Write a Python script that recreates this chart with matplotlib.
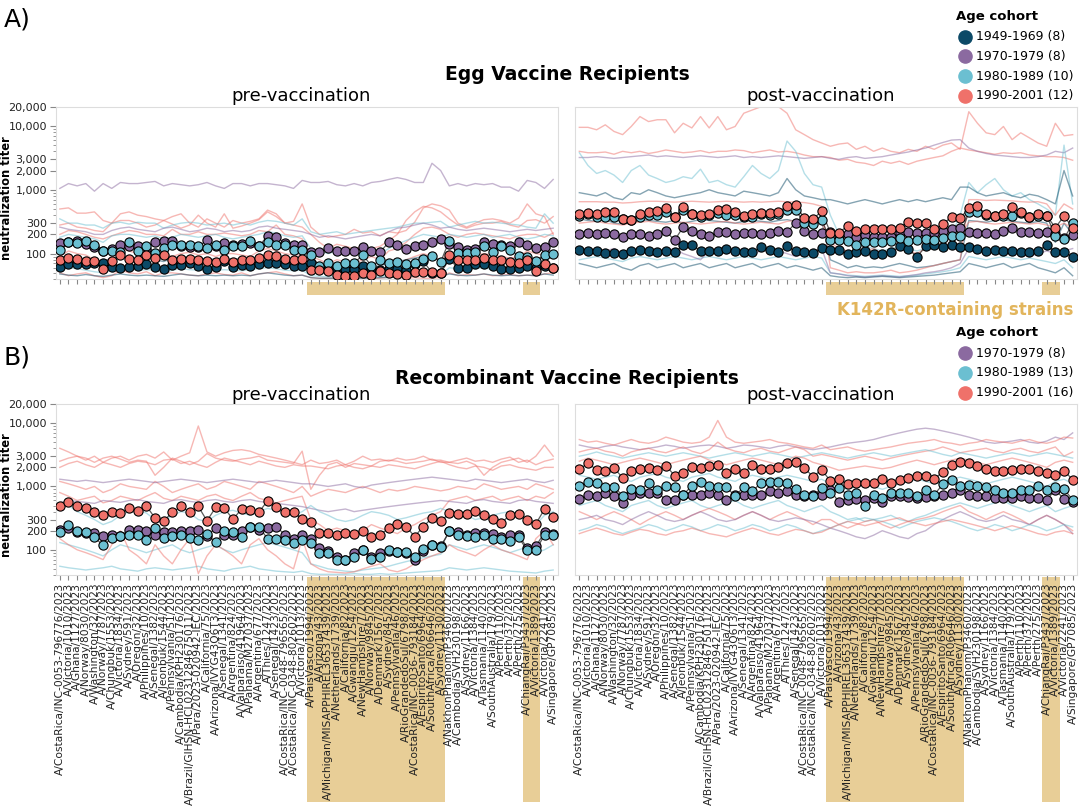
import matplotlib
matplotlib.use("Agg")
import matplotlib.pyplot as plt
from matplotlib.patches import Rectangle
from matplotlib.lines import Line2D
from matplotlib.ticker import FixedLocator, LogLocator, NullFormatter

strains = [
    "A/CostaRica/INC-0053-796776/2023", "A/Victoria/1010/2023", "A/Ghana/1127/2023",
    "A/Norway/8030/2023", "A/Washington/32/2023", "A/Norway/7787/2023",
    "A/Chungbuk/1553/2023", "A/Victoria/1834/2023", "A/Sydney/591/2023",
    "A/Oregon/32/2023", "A/Philippines/10/2023", "A/Senegal/1382/2023",
    "A/Jeonbuk/1544/2023", "A/Pennsylvania/51/2023", "A/Cambodia/KPH230176/2023",
    "A/Brazil/GIHSN-HCL0231284675011/2023", "A/Para/2023-020942-IEC/2023",
    "A/California/75/2023", "A/Arizona/IVYG43Q6T3/2023", "A/Senegal/1341/2023",
    "A/Argentina/824/2023", "A/Valparaiso/41964/2023", "A/Panama/M27037/2023",
    "A/Argentina/677/2023", "A/Thies/1247/2023", "A/Senegal/1423/2023",
    "A/CostaRica/INC-0048-796565/2023", "A/CostaRica/INC-0348-802602/2023",
    "A/Victoria/1013/2023", "A/PaisVasco/1994/2023", "A/Arizona/43/2023",
    "A/Michigan/MISAPPHIREL36537439/2023", "A/Netherlands/1739/2023",
    "A/California/82/2023", "A/Gwangju/1254/2023", "A/NewHampshire/7/2023",
    "A/Norway/9845/2023", "A/Denmark/1567/2023", "A/Sydney/845/2023",
    "A/Pennsylvania/46/2023", "A/RioGrandedoSul/6798/2023",
    "A/CostaRica/INC-0036-793184/2023", "A/EspiritoSanto/6964/2023",
    "A/SouthAfrica/R06646/2023", "A/Sydney/1130/2023", "A/NakhonPhanom/P3460/2023",
    "A/Cambodia/SVH230198/2023", "A/Sydney/1166/2023", "A/Victoria/1384/2023",
    "A/Tasmania/1140/2023", "A/SouthAustralia/179/2023", "A/Perth/110/2023",
    "A/Perth/372/2023", "A/Perth/275/2023", "A/ChiangRai/P3437/2023",
    "A/Victoria/1389/2023", "A/Victoria/2241/2023", "A/Singapore/GP7085/2023",
]

k142r_strains = [
    "A/PaisVasco/1994/2023", "A/Arizona/43/2023", "A/Michigan/MISAPPHIREL36537439/2023",
    "A/Netherlands/1739/2023", "A/California/82/2023", "A/Gwangju/1254/2023",
    "A/NewHampshire/7/2023", "A/Norway/9845/2023", "A/Denmark/1567/2023",
    "A/Sydney/845/2023", "A/Pennsylvania/46/2023", "A/RioGrandedoSul/6798/2023",
    "A/CostaRica/INC-0036-793184/2023", "A/EspiritoSanto/6964/2023",
    "A/SouthAfrica/R06646/2023", "A/Sydney/1130/2023",
    "A/ChiangRai/P3437/2023", "A/Victoria/1389/2023",
]

colors = {
    "1949-1969": "#0c4a67",
    "1970-1979": "#8b6aa0",
    "1980-1989": "#6bbfd1",
    "1990-2001": "#ef716a",
}
egg_legend = ["1949-1969 (8)", "1970-1979 (8)", "1980-1989 (10)", "1990-2001 (12)"]
rec_legend = ["1970-1979 (8)", "1980-1989 (13)", "1990-2001 (16)"]

# ---- cohort geometric means ----
egg_pre_1949 = [62, 68, 68, 68, 72, 72, 62, 60, 62, 64, 69, 62, 57, 66, 66, 70, 64, 57, 62, 76,
                62, 66, 64, 68, 72, 72, 69, 64, 64,
                72, 60, 58, 56, 58, 58, 64, 57, 56, 58, 57, 55, 68, 76, 50, 50,
                81, 60, 60, 68, 69, 64, 57, 57, 60, 64, 60, 64, 60]
egg_pre_1970 = [146, 150, 155, 140, 125, 110, 120, 138, 130, 130, 120, 150, 159, 159, 130, 125, 128, 164, 130, 146,
                135, 140, 145, 130, 190, 185, 146, 138, 138,
                106, 106, 122, 111, 111, 111, 125, 111, 106, 150, 138, 118, 133, 138, 150, 169,
                140, 125, 115, 120, 150, 141, 138, 130, 150, 138, 122, 125, 152]
egg_pre_1980 = [115, 150, 148, 155, 138, 111, 109, 106, 150, 111, 130, 103, 122, 136, 136, 138, 130, 122, 138, 115,
                130, 130, 155, 130, 150, 138, 138, 115, 115,
                96, 64, 70, 64, 70, 70, 96, 64, 78, 70, 73, 68, 72, 81, 93, 74,
                159, 103, 103, 105, 130, 105, 133, 115, 93, 88, 76, 96, 98]
egg_pre_1990 = [78, 86, 83, 76, 76, 57, 76, 96, 83, 79, 94, 86, 94, 79, 83, 83, 79, 76, 73, 81,
                73, 79, 79, 86, 94, 91, 83, 79, 81,
                55, 55, 53, 47, 45, 45, 50, 47, 53, 49, 48, 47, 52, 52, 51, 50,
                94, 78, 78, 78, 86, 78, 78, 73, 72, 78, 53, 69, 59]

egg_post_1949 = [115, 111, 109, 103, 103, 100, 109, 113, 109, 105, 109, 105, 135, 138, 109, 109, 109, 118, 111, 105,
                 105, 127, 115, 105, 130, 109, 105, 103, 122,
                 115, 115, 99, 105, 111, 100, 97, 105, 130, 120, 88, 130, 138, 127, 138, 125,
                 125, 118, 109, 115, 109, 109, 105, 105, 109, 138, 105, 105, 89]
egg_post_1970 = [206, 214, 206, 214, 201, 185, 204, 204, 192, 204, 227, 161, 261, 227, 204, 190, 216, 216, 204, 209,
                 214, 201, 214, 227, 216, 305, 227, 201, 209,
                 216, 197, 201, 185, 197, 185, 185, 179, 214, 216, 214, 214, 209, 227, 240, 255,
                 216, 209, 209, 204, 227, 255, 216, 216, 209, 221, 204, 175, 197]
egg_post_1980 = [386, 410, 378, 378, 378, 343, 335, 378, 400, 400, 441, 378, 478, 410, 378, 400, 425, 400, 400, 378,
                 378, 410, 400, 410, 478, 478, 298, 288, 335,
                 165, 165, 155, 138, 152, 152, 150, 155, 175, 155, 165, 171, 165, 175, 190, 190,
                 441, 441, 400, 391, 391, 391, 425, 378, 391, 391, 190, 171, 298]
egg_post_1990 = [410, 436, 420, 441, 451, 343, 335, 420, 451, 473, 520, 373, 532, 415, 400, 410, 478, 496, 451, 391,
                 410, 425, 430, 441, 558, 578, 356, 343, 467,
                 214, 214, 271, 229, 240, 240, 240, 240, 255, 316, 305, 298, 240, 288, 378, 356,
                 520, 558, 410, 391, 410, 532, 441, 378, 410, 391, 255, 386, 255]

rec_pre_1970 = [207, 220, 188, 183, 183, 166, 172, 166, 207, 202, 199, 172, 190, 188, 199, 195, 207, 166, 220, 172,
                172, 195, 233, 207, 220, 233, 172, 147, 172,
                149, 106, 94, 78, 70, 89, 100, 78, 89, 94, 91, 89, 70, 94, 117, 113,
                195, 188, 172, 183, 183, 177, 157, 172, 172, 106, 113, 190, 179]
rec_pre_1980 = [188, 242, 195, 190, 158, 117, 153, 166, 170, 170, 144, 220, 153, 166, 172, 153, 144, 177, 131, 195,
                188, 162, 225, 233, 149, 147, 144, 127, 144,
                127, 89, 89, 68, 68, 78, 100, 71, 78, 100, 91, 91, 78, 102, 117, 109,
                195, 172, 166, 158, 172, 147, 147, 140, 158, 98, 98, 172, 172]
rec_pre_1990 = [494, 558, 483, 454, 388, 356, 398, 379, 454, 412, 494, 316, 287, 388, 483, 393, 483, 287, 465, 454,
                305, 438, 428, 393, 593, 471, 388, 393, 305,
                270, 181, 181, 172, 181, 179, 195, 162, 172, 220, 254, 233, 162, 233, 316, 280,
                379, 370, 370, 412, 348, 308, 263, 356, 365, 290, 257, 438, 327]

rec_post_1970 = [630, 737, 694, 783, 711, 545, 737, 783, 783, 802, 615, 615, 737, 737, 737, 783, 737, 615, 737, 737,
                 737, 737, 832, 783, 832, 737, 694, 737, 737,
                 884, 558, 615, 630, 615, 653, 558, 694, 694, 677, 653, 677, 694, 737, 783, 884,
                 737, 694, 694, 653, 653, 653, 694, 653, 653, 615, 884, 630, 578]
rec_post_1980 = [1022, 1196, 1126, 962, 997, 711, 905, 884, 1126, 884, 1022, 973, 737, 1022, 1167, 1022, 973, 962, 711, 973,
                 832, 1153, 1196, 1196, 1153, 905, 737, 711, 939,
                 783, 939, 737, 783, 494, 737, 653, 783, 802, 802, 711, 884, 737, 1086, 1271, 1022,
                 1050, 1022, 997, 884, 783, 802, 884, 884, 1022, 884, 997, 905, 615]
rec_post_1990 = [1872, 2328, 1827, 1762, 1941, 1383, 1762, 1872, 1941, 1827, 2138, 1486, 1619, 2013, 1941, 2113, 2191, 1659, 1872, 1619,
                 2191, 1872, 1872, 2013, 2328, 2473, 1941, 1434, 1827,
                 1225, 1302, 1086, 1153, 1153, 1153, 1302, 1153, 1271, 1383, 1469, 1469, 1302, 1720, 2191, 2473,
                 2328, 2113, 1872, 1783, 1783, 1827, 1872, 1872, 1783, 1659, 1524, 1783, 1271]

# ---- individual sera (thin lines), read roughly ----
egg_pre_people = [
    ("1970-1979", [1050, 1250, 1150, 1250, 950, 1250, 1050, 1300, 1250, 1250, 1300, 1350, 1150, 1250, 1200, 1150, 1200, 1300, 1150, 1050,
                   1250, 1250, 1150, 1250, 1250, 1200, 1150, 1050, 1400,
                   1300, 1300, 1350, 1200, 1150, 1250, 1150, 1300, 1350, 1450, 1550, 1450, 1300, 1300, 2600, 2000,
                   1150, 1250, 1150, 1250, 1200, 1250, 1100, 1100, 950, 1400, 1300, 1050, 1450]),
    ("1990-2001", [500, 520, 430, 430, 450, 330, 300, 420, 450, 400, 380, 350, 330, 380, 420, 300, 260, 350, 300, 260,
                   330, 300, 320, 350, 480, 420, 300, 320, 600,
                   260, 200, 180, 190, 200, 240, 210, 220, 190, 220, 210, 230, 310, 520, 600, 560,
                   480, 300, 260, 300, 340, 350, 330, 300, 360, 600, 420, 380, 200]),
    ("1990-2001", [280, 300, 260, 250, 230, 220, 300, 330, 330, 300, 260, 280, 330, 290, 250, 280, 400, 300, 260, 420,
                   250, 270, 300, 340, 450, 380, 300, 280, 260,
                   200, 150, 120, 140, 130, 120, 130, 120, 130, 160, 200, 330, 450, 550, 520, 450,
                   350, 280, 250, 280, 300, 300, 320, 280, 260, 330, 340, 300, 380]),
    ("1990-2001", [200, 230, 220, 200, 180, 170, 190, 210, 230, 220, 200, 200, 190, 240, 200, 200, 220, 200, 200, 210,
                   200, 190, 200, 230, 220, 280, 200, 190, 170,
                   90, 80, 70, 80, 75, 70, 80, 90, 80, 110, 120, 150, 200, 250, 260, 240,
                   200, 180, 200, 210, 200, 190, 180, 170, 190, 200, 200, 180, 210]),
    ("1990-2001", [50, 45, 48, 50, 45, 42, 45, 55, 50, 48, 52, 45, 50, 50, 48, 46, 45, 48, 50, 47,
                   46, 50, 45, 48, 50, 52, 48, 45, 46,
                   42, 41, 41, 42, 41, 41, 42, 41, 41, 43, 42, 41, 42, 41, 41, 42,
                   50, 45, 47, 46, 48, 45, 46, 47, 45, 46, 45, 48, 50]),
    ("1990-2001", [90, 110, 100, 95, 80, 70, 90, 120, 110, 100, 95, 110, 100, 90, 100, 105, 95, 100, 90, 100,
                   100, 95, 90, 110, 120, 110, 100, 95, 95,
                   60, 55, 50, 55, 50, 52, 55, 50, 55, 60, 70, 80, 90, 100, 90, 80,
                   100, 95, 90, 95, 100, 95, 90, 85, 90, 110, 100, 95, 100]),
    ("1980-1989", [350, 300, 300, 280, 280, 250, 300, 310, 290, 310, 300, 300, 250, 280, 300, 310, 300, 280, 290, 300,
                   280, 300, 280, 310, 330, 320, 300, 280, 350,
                   220, 200, 210, 220, 200, 210, 220, 230, 240, 250, 260, 280, 300, 300, 310, 320,
                   260, 280, 300, 320, 300, 310, 300, 290, 280, 260, 250, 420, 300]),
    ("1980-1989", [180, 200, 190, 180, 170, 150, 190, 200, 200, 190, 180, 190, 170, 180, 200, 190, 180, 190, 200, 180,
                   170, 180, 190, 200, 220, 210, 190, 180, 190,
                   120, 110, 100, 110, 105, 100, 110, 120, 100, 120, 140, 160, 180, 200, 190, 180,
                   200, 190, 180, 190, 200, 180, 190, 200, 180, 170, 180, 200, 190]),
    ("1980-1989", [55, 60, 58, 55, 52, 50, 55, 60, 58, 55, 56, 55, 50, 55, 58, 56, 55, 57, 55, 56,
                   55, 54, 56, 58, 60, 58, 55, 54, 55,
                   45, 44, 43, 44, 43, 44, 45, 44, 43, 45, 46, 47, 48, 50, 48, 46,
                   60, 58, 57, 58, 60, 56, 57, 55, 54, 56, 55, 58, 57]),
    ("1970-1979", [260, 240, 230, 220, 200, 200, 230, 250, 260, 240, 230, 220, 250, 260, 240, 220, 230, 250, 240, 220,
                   230, 220, 230, 260, 270, 250, 240, 230, 220,
                   200, 180, 190, 180, 170, 180, 190, 200, 190, 220, 250, 260, 280, 300, 280, 250,
                   260, 240, 230, 240, 250, 240, 230, 220, 230, 240, 230, 240, 250]),
    ("1949-1969", [90, 85, 80, 85, 80, 75, 85, 90, 85, 80, 85, 80, 75, 85, 90, 85, 80, 85, 80, 85,
                   80, 85, 80, 90, 95, 90, 85, 80, 85,
                   70, 65, 60, 65, 60, 62, 65, 60, 65, 70, 75, 80, 85, 90, 85, 80,
                   90, 85, 80, 85, 90, 85, 80, 85, 80, 85, 80, 90, 85]),
    ("1949-1969", [48, 46, 45, 47, 45, 44, 46, 48, 46, 45, 46, 45, 44, 46, 48, 46, 45, 46, 45, 46,
                   45, 46, 45, 48, 50, 48, 46, 45, 46,
                   42, 41, 41, 41, 41, 41, 41, 41, 42, 42, 43, 44, 45, 46, 45, 44,
                   48, 46, 45, 46, 48, 46, 45, 46, 45, 46, 45, 48, 46]),
]

egg_post_people = [
    ("1990-2001", [9500, 9500, 8700, 10400, 8200, 7300, 9800, 14000, 11700, 12500, 12500, 7800, 11000, 9300, 14000, 9300, 14000, 8700, 9800, 15800,
                   17800, 20000, 20000, 20000, 15800, 8700, 7300, 6100, 5400,
                   4800, 5200, 5400, 4300, 4800, 4000, 4500, 4000, 3800, 4300, 4000, 4800, 4300, 5000, 5400, 4300,
                   16700, 11000, 7800, 7300, 9800, 6100, 7800, 6500, 5400, 4800, 11000, 7000, 7300]),
    ("1990-2001", [4000, 3800, 3800, 3900, 3600, 4000, 3800, 4000, 3700, 3900, 4200, 4000, 3800, 3900, 4100, 3800, 4000, 4000, 4200, 4100,
                   3800, 4000, 4200, 3900, 4000, 3800, 3500, 3300, 3300,
                   3200, 2900, 3000, 2700, 2600, 2400, 2800, 2600, 2800, 2500, 2800, 3000, 3200, 3400, 4000, 4500,
                   4200, 4000, 3800, 3600, 3800, 3700, 3800, 3500, 3400, 3300, 3300, 3200, 2900]),
    ("1970-1979", [3200, 3200, 3300, 3200, 3100, 3200, 3300, 3400, 3500, 3300, 3400, 3300, 3200, 3300, 3400, 3300, 3200, 3300, 3400, 3200,
                   3300, 3200, 3300, 3400, 3300, 3200, 3100, 3200, 3300,
                   3100, 3000, 3200, 3300, 3100, 3200, 3300, 3500, 3700, 3900, 4200, 4500, 5000, 5500, 6000, 6100,
                   4500, 4000, 3700, 3500, 3400, 3300, 3200, 3200, 3300, 3500, 4000, 3800, 4500]),
    ("1980-1989", [3800, 2400, 1800, 2000, 1700, 1300, 2000, 2400, 1700, 1500, 1300, 1400, 1600, 1500, 2100, 1300, 1400, 1200, 1100, 1600,
                   2400, 1800, 1500, 2000, 5800, 4000, 1800, 1200, 1100,
                   400, 200, 150, 140, 130, 120, 110, 120, 130, 120, 110, 120, 130, 150, 200, 400,
                   1300, 900, 1200, 1500, 1000, 800, 900, 700, 600, 500, 400, 5000, 600]),
    ("1949-1969", [900, 850, 800, 900, 750, 700, 900, 850, 1000, 900, 800, 750, 800, 850, 900, 1000, 900, 850, 800, 950,
                   900, 850, 800, 900, 1500, 1000, 800, 750, 700,
                   700, 650, 600, 650, 700, 650, 600, 650, 700, 650, 700, 650, 700, 750, 700, 1100,
                   1100, 900, 800, 850, 900, 800, 750, 850, 800, 700, 600, 2000, 800]),
    ("1949-1969", [350, 330, 320, 340, 300, 290, 320, 340, 330, 320, 310, 330, 300, 320, 340, 330, 320, 310, 300, 320,
                   330, 320, 310, 330, 340, 320, 310, 300, 320,
                   80, 70, 60, 65, 60, 62, 60, 65, 70, 65, 60, 62, 65, 70, 75, 80,
                   330, 320, 310, 330, 340, 320, 310, 300, 320, 300, 150, 300, 200]),
    ("1990-2001", [650, 650, 650, 640, 640, 620, 630, 650, 660, 660, 650, 640, 650, 660, 650, 640, 650, 660, 650, 640,
                   650, 640, 650, 660, 650, 640, 630, 600, 550,
                   60, 55, 50, 52, 50, 50, 52, 55, 50, 52, 55, 60, 65, 70, 75, 80,
                   700, 700, 680, 690, 680, 670, 650, 640, 650, 600, 400, 600, 500]),
    ("1980-1989", [80, 85, 90, 85, 80, 75, 85, 90, 85, 80, 85, 90, 85, 80, 85, 90, 85, 80, 85, 90,
                   85, 80, 85, 90, 85, 80, 85, 90, 85,
                   50, 48, 46, 45, 44, 45, 46, 45, 44, 45, 46, 48, 50, 52, 55, 60,
                   90, 85, 80, 85, 90, 85, 80, 85, 80, 75, 70, 80, 60]),
    ("1970-1979", [120, 110, 100, 110, 120, 100, 110, 120, 100, 90, 110, 120, 100, 90, 80, 110, 120, 100, 110, 120,
                   100, 110, 120, 110, 100, 90, 100, 110, 120,
                   50, 48, 45, 44, 43, 44, 45, 44, 43, 45, 47, 50, 52, 55, 60, 70,
                   120, 110, 100, 110, 120, 110, 100, 90, 100, 110, 100, 110, 120]),
    ("1990-2001", [300, 310, 320, 300, 290, 280, 300, 310, 320, 300, 290, 300, 310, 300, 290, 300, 310, 320, 300, 290,
                   300, 310, 300, 290, 320, 330, 300, 290, 300,
                   150, 120, 110, 100, 110, 120, 100, 110, 120, 110, 100, 120, 130, 150, 180, 200,
                   310, 320, 300, 290, 300, 310, 300, 290, 300, 280, 260, 300, 250]),
    ("1949-1969", [70, 65, 60, 65, 70, 60, 55, 65, 70, 60, 65, 70, 60, 65, 70, 60, 65, 70, 60, 65,
                   70, 60, 65, 70, 60, 65, 60, 55, 60,
                   45, 43, 42, 43, 42, 43, 44, 43, 42, 43, 44, 45, 46, 48, 50, 52,
                   70, 65, 60, 65, 70, 60, 65, 70, 60, 55, 50, 60, 45]),
]

rec_pre_people = [
    ("1990-2001", [4000, 3500, 3000, 2600, 3000, 2400, 2800, 3000, 2600, 3000, 3200, 2800, 3500, 2600, 3000, 3400, 9000, 3500, 3000, 3400,
                   3700, 3800, 3600, 3200, 3000, 2800, 2600, 2400, 2200,
                   2600, 2300, 2400, 2600, 2200, 2500, 3000, 2600, 2700, 2500, 2800, 2600, 2700, 3000, 2600, 2600,
                   2400, 2600, 2800, 2500, 2600, 2400, 2700, 2900, 2400, 2600, 2200, 2500, 2700]),
    ("1990-2001", [2500, 2800, 3000, 2800, 2400, 2800, 3000, 2700, 2400, 2600, 2500, 1500, 2000, 2800, 2500, 2200, 2500, 3300, 2800, 2600,
                   2500, 2700, 2800, 3000, 2600, 2500, 2400, 2300, 3600,
                   900, 1500, 2200, 2400, 2000, 2300, 2200, 2100, 2500, 2600, 2500, 2300, 2400, 2500, 2700, 2400,
                   2400, 2300, 2500, 2200, 1500, 2000, 2400, 2600, 2800, 2400, 3000, 4500, 3000]),
    ("1990-2001", [2000, 2300, 2500, 2200, 2000, 2400, 2200, 2000, 2300, 2500, 2400, 2200, 2600, 2700, 2300, 2500, 2200, 2000, 2400, 2800,
                   2600, 2400, 2200, 2500, 2300, 2100, 2000, 2200, 2100,
                   2100, 2000, 1900, 2100, 2200, 2000, 1900, 2100, 2000, 2200, 2100, 2000, 1900, 2100, 2300, 2500,
                   2200, 2000, 1900, 2100, 2000, 1800, 2100, 2200, 2000, 1900, 1800, 2000, 2000]),
    ("1990-2001", [1200, 1100, 1000, 900, 1000, 800, 900, 1100, 1000, 950, 900, 1200, 1000, 800, 900, 1000, 1100, 900, 1000, 1200,
                   1100, 1000, 900, 1200, 1100, 1000, 900, 800, 1000,
                   700, 800, 900, 850, 800, 900, 1000, 900, 800, 900, 850, 900, 1000, 950, 900, 850,
                   900, 1000, 950, 900, 1100, 1000, 900, 950, 1000, 900, 1100, 1000, 900]),
    ("1990-2001", [800, 700, 600, 650, 700, 550, 600, 700, 650, 600, 700, 800, 650, 600, 700, 650, 600, 700, 750, 650,
                   600, 700, 800, 650, 600, 550, 600, 650, 700,
                   300, 250, 200, 220, 200, 180, 200, 250, 220, 200, 180, 220, 250, 300, 350, 400,
                   600, 650, 700, 600, 650, 700, 600, 650, 700, 600, 700, 650, 800]),
    ("1970-1979", [1300, 1250, 1200, 1250, 1200, 1150, 1200, 1250, 1300, 1250, 1200, 1150, 1200, 1250, 1300, 1250, 1200, 1150, 1200, 1250,
                   1300, 1250, 1200, 1150, 1200, 1250, 1200, 1150, 1100,
                   1100, 1050, 1000, 1050, 1100, 1000, 950, 1050, 1100, 1150, 1200, 1250, 1300, 1350, 1400, 1350,
                   1300, 1250, 1200, 1300, 1250, 1200, 1150, 1200, 1250, 1300, 1200, 1150, 1250]),
    ("1970-1979", [550, 600, 580, 560, 540, 600, 580, 560, 600, 620, 580, 560, 540, 600, 620, 580, 560, 600, 620, 580,
                   560, 600, 620, 580, 560, 540, 520, 500, 480,
                   450, 420, 400, 420, 440, 400, 420, 440, 460, 480, 500, 520, 540, 560, 580, 600,
                   580, 560, 540, 600, 620, 580, 560, 540, 600, 620, 580, 560, 540]),
    ("1980-1989", [450, 500, 400, 350, 300, 250, 280, 350, 400, 420, 380, 300, 280, 350, 400, 380, 300, 280, 350, 400,
                   420, 380, 350, 400, 450, 420, 380, 350, 400,
                   500, 400, 350, 300, 280, 300, 350, 400, 380, 350, 300, 320, 350, 380, 400, 450,
                   400, 380, 350, 300, 320, 350, 380, 400, 350, 300, 250, 350, 400]),
    ("1980-1989", [130, 120, 110, 100, 90, 80, 100, 120, 110, 100, 90, 100, 110, 120, 100, 90, 100, 110, 120, 100,
                   90, 100, 110, 120, 130, 120, 110, 100, 90,
                   60, 55, 50, 48, 46, 45, 48, 50, 52, 55, 60, 65, 70, 75, 80, 85,
                   120, 110, 100, 110, 120, 110, 100, 90, 100, 110, 90, 100, 120]),
    ("1980-1989", [55, 52, 50, 48, 50, 52, 55, 50, 48, 46, 50, 52, 50, 48, 50, 52, 55, 50, 48, 46,
                   50, 52, 55, 50, 48, 46, 45, 44, 46,
                   42, 41, 41, 41, 41, 42, 41, 41, 42, 41, 42, 43, 44, 45, 46, 47,
                   52, 50, 48, 50, 52, 50, 48, 46, 45, 44, 43, 46, 48]),
    ("1990-2001", [150, 120, 100, 90, 80, 70, 120, 200, 100, 80, 60, 120, 80, 60, 100, 150, 42, 80, 120, 100,
                   80, 60, 120, 150, 100, 80, 60, 50, 150,
                   60, 50, 45, 44, 43, 45, 50, 55, 60, 48, 45, 50, 60, 70, 80, 90,
                   120, 100, 90, 80, 100, 120, 100, 90, 80, 70, 150, 200, 120]),
]

rec_post_people = [
    ("1970-1979", [4500, 4200, 4000, 4300, 4500, 4200, 4000, 3800, 4000, 4200, 4500, 4300, 4000, 4200, 4400, 4500, 4300, 4000, 4200, 4500,
                   4400, 4200, 4000, 4300, 4500, 4200, 4000, 3800, 4000,
                   4200, 4500, 4800, 5000, 5200, 5500, 6000, 6500, 7000, 7500, 8000, 8300, 8000, 7500, 7000, 6500,
                   6000, 5500, 5000, 4800, 5000, 5200, 5500, 5000, 4800, 5200, 6000, 5500, 7000]),
    ("1990-2001", [5500, 5000, 5200, 4800, 4500, 5000, 5500, 5000, 4800, 5200, 6000, 5500, 5000, 4800, 5000, 6000, 11000, 6000, 5000, 4800,
                   5000, 5200, 5500, 5000, 4800, 4500, 4200, 4000, 4500,
                   3800, 4000, 4200, 3800, 3600, 3800, 4000, 4200, 4500, 4800, 5000, 5200, 5500, 5000, 4800, 4500,
                   4800, 5000, 5500, 5200, 5000, 4800, 5200, 5500, 5000, 4800, 5200, 6000, 5800]),
    ("1990-2001", [3500, 3800, 4000, 3600, 3400, 3000, 3500, 3800, 4000, 3600, 3400, 3800, 4200, 3600, 3300, 3800, 5000, 4000, 3600, 3400,
                   3800, 4000, 3600, 3400, 3800, 4200, 3800, 3000, 3200,
                   3000, 2800, 2600, 2800, 3000, 2800, 2600, 2800, 3000, 3200, 3400, 3600, 3800, 4200, 3800, 3400,
                   3600, 3800, 4000, 3600, 3400, 3800, 4000, 3600, 3400, 3800, 4200, 3000, 3500]),
    ("1980-1989", [3000, 3200, 3500, 3200, 3000, 2800, 3000, 3200, 3400, 3200, 3000, 3200, 3400, 3200, 3000, 2800, 3000, 3200, 3400, 3200,
                   3000, 3200, 3400, 3200, 3000, 2800, 3000, 3200, 3400,
                   3200, 3000, 2800, 3000, 3200, 3400, 3200, 3000, 3200, 3400, 3600, 3800, 3500, 3200, 3000, 3400,
                   3200, 3000, 2800, 3000, 3200, 3400, 3200, 3000, 3200, 3400, 3200, 3000, 2800]),
    ("1990-2001", [2500, 2800, 2600, 2400, 2200, 2400, 2600, 2800, 2600, 2400, 2200, 2400, 2600, 2800, 3000, 2600, 2400, 2200, 2400, 2600,
                   2800, 2600, 2400, 2200, 2600, 3000, 2800, 2400, 2200,
                   2000, 1800, 1900, 2000, 2100, 2000, 1900, 2000, 2200, 2400, 2600, 2400, 2200, 2400, 2600, 2800,
                   2600, 2400, 2200, 2400, 2600, 2800, 2600, 2400, 2200, 2000, 2400, 2600, 2400]),
    ("1980-1989", [1500, 1400, 1300, 1400, 1500, 1300, 1200, 1400, 1500, 1600, 1400, 1300, 1200, 1400, 1500, 1600, 1400, 1300, 1200, 1400,
                   1500, 1400, 1300, 1400, 1500, 1400, 1300, 1200, 1300,
                   1100, 1000, 900, 1000, 1100, 1000, 900, 1000, 1100, 1200, 1300, 1200, 1100, 1200, 1300, 1400,
                   1300, 1200, 1100, 1200, 1300, 1400, 1300, 1200, 1100, 1000, 1200, 1300, 1100]),
    ("1980-1989", [500, 550, 600, 500, 450, 400, 500, 550, 600, 500, 450, 500, 550, 600, 500, 450, 500, 550, 600, 500,
                   450, 500, 550, 600, 500, 450, 400, 450, 500,
                   400, 350, 300, 320, 280, 300, 320, 350, 300, 280, 320, 350, 400, 450, 500, 550,
                   500, 450, 500, 550, 600, 500, 450, 400, 450, 500, 400, 450, 500]),
    ("1990-2001", [400, 350, 300, 350, 400, 350, 300, 250, 300, 350, 400, 350, 300, 350, 400, 450, 400, 350, 300, 350,
                   400, 350, 300, 350, 400, 350, 300, 250, 300,
                   300, 250, 220, 250, 280, 300, 250, 220, 250, 280, 300, 320, 350, 400, 450, 500,
                   400, 350, 300, 350, 400, 350, 300, 250, 300, 350, 300, 250, 200]),
    ("1970-1979", [300, 320, 350, 300, 280, 250, 300, 350, 400, 350, 300, 280, 300, 350, 400, 350, 300, 280, 300, 350,
                   400, 350, 300, 280, 300, 320, 300, 280, 250,
                   220, 200, 180, 160, 150, 170, 200, 180, 160, 150, 180, 200, 250, 300, 350, 400,
                   350, 300, 280, 300, 350, 300, 280, 250, 300, 350, 300, 250, 180]),
    ("1980-1989", [200, 220, 250, 230, 200, 180, 200, 220, 250, 230, 200, 220, 250, 230, 200, 220, 250, 230, 200, 220,
                   250, 230, 200, 220, 250, 230, 200, 180, 200,
                   220, 250, 280, 300, 320, 300, 280, 250, 220, 250, 280, 300, 320, 300, 280, 250,
                   220, 200, 220, 250, 230, 200, 220, 250, 230, 200, 220, 250, 230]),
    ("1990-2001", [180, 200, 220, 200, 180, 170, 190, 210, 200, 180, 170, 190, 200, 220, 200, 180, 170, 160, 180, 200,
                   220, 200, 180, 170, 190, 210, 200, 180, 190,
                   220, 250, 280, 260, 240, 260, 280, 300, 320, 280, 260, 240, 260, 280, 300, 280,
                   260, 240, 220, 200, 220, 240, 220, 200, 180, 170, 190, 200, 180]),
]

band_color = "#e8ce97"
k142r_text_color = "#e2b55c"
yticks = [100, 200, 300, 1000, 2000, 3000, 10000, 20000]


def k142r_spans():
    flags = [s in k142r_strains for s in strains]
    spans = []
    start = None
    for i, f in enumerate(flags + [False]):
        if f and start is None:
            start = i
        if not f and start is not None:
            spans.append((start, i - 1))
            start = None
    return spans


def draw_panel(ax, means, people, title, left, labels):
    x = list(range(len(strains)))
    for cohort, vals in people:
        ax.plot(x, vals, color=colors[cohort], lw=1.0, alpha=0.5, zorder=2)
    for cohort, vals in means:
        ax.plot(x, vals, color="#333333", lw=0.9, alpha=0.8, zorder=3)
        ax.scatter(x, vals, s=44, color=colors[cohort], edgecolors="black",
                   linewidths=0.8, zorder=4)

    ax.set_yscale("log")
    ax.set_ylim(40, 20000)
    ax.set_xlim(-0.5, len(strains) - 0.5)
    for sp in ax.spines.values():
        sp.set_color("#dddddd")

    ax.yaxis.set_major_locator(FixedLocator(yticks))
    ax.yaxis.set_minor_locator(LogLocator(base=10, subs=range(1, 10), numticks=20))
    ax.yaxis.set_minor_formatter(NullFormatter())
    if left:
        ax.set_yticklabels([f"{t:,}" for t in yticks], fontsize=8, color="#222222")
        ax.tick_params(axis="y", which="major", length=4, color="#888888", pad=2)
        ax.tick_params(axis="y", which="minor", length=2.5, color="#888888")
        ax.set_ylabel("neutralization titer", fontsize=8.3, weight="bold")
        ax.yaxis.set_label_coords(-0.085, 0.47)
    else:
        ax.tick_params(axis="y", which="both", left=False, labelleft=False)

    ax.set_xticks(x)
    ax.tick_params(axis="x", length=3.5, color="#888888", pad=2)
    if labels:
        ax.set_xticklabels(strains, rotation=90, fontsize=7.7, color="#222222")
    else:
        ax.set_xticklabels([])

    ax.text(0.49, 1.065 if not labels else 1.05, title, transform=ax.transAxes,
            ha="center", va="center", fontsize=13)

    for a, b in k142r_spans():
        if labels:
            y0, h = -1.33, 1.32
        else:
            y0, h = -0.093, 0.078
        ax.add_patch(Rectangle((a - 0.5, y0), b - a + 1, h, transform=ax.get_xaxis_transform(),
                               color=band_color, clip_on=False, zorder=0, lw=0))


W, H = 1079, 806
fig = plt.figure(figsize=(W / 100, H / 100), dpi=100)


def fx(px):
    return px / W


def fy(py):
    return 1 - py / H


ax_w = fx(502)
ax_h_top = 172.3 / H
ax_h_bot = 171 / H
ax1 = fig.add_axes([fx(55.5), fy(279), ax_w, ax_h_top])
ax2 = fig.add_axes([fx(575), fy(279), ax_w, ax_h_top])
ax3 = fig.add_axes([fx(55.5), fy(575), ax_w, ax_h_bot])
ax4 = fig.add_axes([fx(575), fy(575), ax_w, ax_h_bot])

draw_panel(ax1, [("1949-1969", egg_pre_1949), ("1970-1979", egg_pre_1970),
                 ("1980-1989", egg_pre_1980), ("1990-2001", egg_pre_1990)],
           egg_pre_people, "pre-vaccination", True, False)
draw_panel(ax2, [("1949-1969", egg_post_1949), ("1970-1979", egg_post_1970),
                 ("1980-1989", egg_post_1980), ("1990-2001", egg_post_1990)],
           egg_post_people, "post-vaccination", False, False)
draw_panel(ax3, [("1970-1979", rec_pre_1970), ("1980-1989", rec_pre_1980),
                 ("1990-2001", rec_pre_1990)],
           rec_pre_people, "pre-vaccination", True, True)
draw_panel(ax4, [("1970-1979", rec_post_1970), ("1980-1989", rec_post_1980),
                 ("1990-2001", rec_post_1990)],
           rec_post_people, "post-vaccination", False, True)

# panel letters and headings
fig.text(fx(4), fy(20), "A)", fontsize=18, ha="left", va="center")
fig.text(fx(4), fy(357), "B)", fontsize=18, ha="left", va="center")
fig.text(fx(567), fy(75), "Egg Vaccine Recipients", fontsize=13.5, weight="bold",
         ha="center", va="center")
fig.text(fx(567), fy(378), "Recombinant Vaccine Recipients", fontsize=13.5, weight="bold",
         ha="center", va="center")
fig.text(fx(1073), fy(310), "K142R-containing strains", fontsize=12, weight="bold",
         color=k142r_text_color, ha="right", va="center")


def legend(top, entries):
    fig.text(fx(956), fy(top), "Age cohort", fontsize=9.5, weight="bold", ha="left", va="center")
    for k, lab in enumerate(entries):
        yy = fy(top + 20 + 19.8 * k)
        fig.add_artist(Line2D([fx(965)], [yy], marker="o", markersize=9.5, lw=0,
                              color=colors[lab.split(" ")[0]], transform=fig.transFigure))
        fig.text(fx(976), yy, lab, fontsize=9, ha="left", va="center")


legend(16.5, egg_legend)
legend(333, rec_legend)

fig.savefig("out.png", dpi=100, facecolor="white")
